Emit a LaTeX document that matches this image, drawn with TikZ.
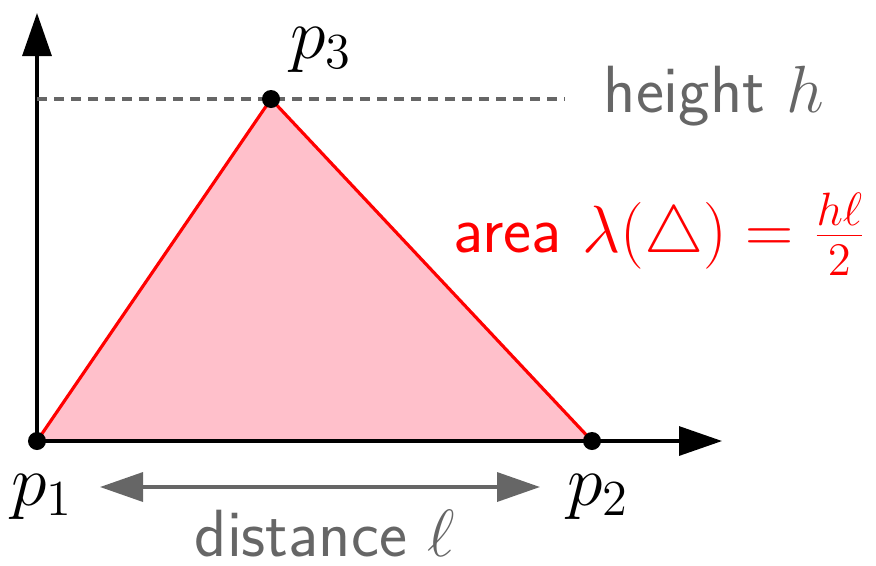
\RequirePackage{fix-cm}
\documentclass[tikz,border=0pt]{standalone}
\usetikzlibrary{arrows.meta}
\definecolor{trifill}{RGB}{255,192,203}
\definecolor{labgray}{RGB}{102,102,102}

\begin{document}
\begin{tikzpicture}[>={Triangle[length=4.3mm, width=2.9mm]},
  every node/.style={font=\fontsize{20.5}{24}\selectfont},
  pt/.style={circle, fill=black, inner sep=0pt, minimum size=1.8mm},
  ax/.style={->, line width=0.9pt},
  lab/.style={labgray, font=\fontsize{19}{23}\selectfont\sffamily, inner sep=0pt},
  dist/.style={<->, labgray, line width=1pt}]
  \useasboundingbox (-0.37,-1.24) rectangle (8.39,4.41);
  \coordinate (o) at (0,0);
  \coordinate (b) at (5.55,0);
  \coordinate (t) at (2.34,3.42);
  \filldraw[fill=trifill, draw=red, line width=0.9pt] (o) -- (b) -- (t) -- cycle;
  \coordinate (ytop) at (0,4.28);
  \coordinate (xend) at (6.85,0);
  \draw[ax] (o) -- (ytop);
  \draw[ax] (o) -- (xend);
  \coordinate (hl) at (o |- t);
  \coordinate (hr) at (5.28,3.42);
  \draw[labgray, line width=0.9pt, dash pattern=on 0.1cm off 0.07cm] (hl) -- (hr);
  \node[pt] (p1) at (o) {};
  \node[pt] (p2) at (b) {};
  \node[pt] (p3) at (t) {};
  \node[anchor=base] (l1) at (0.05,-0.64) {$p_1$};
  \node[anchor=base] (l2) at (5.61,-0.64) {$p_2$};
  \node[anchor=base] (l3) at (2.84,3.83) {$p_3$};
  \node[lab, anchor=base west] (hlab) at (5.66,3.29) {height $h$};
  \node[lab, red, anchor=base west] (alab) at (4.16,1.89)
    {area $\lambda(\triangle)=\frac{h\ell}{2}$};
  \coordinate (dl) at (0.63,-0.46);
  \coordinate (dr) at (5.03,-0.46);
  \draw[dist] (dl) -- (dr);
  \node[lab, anchor=base] (dlab) at (2.88,-1.15) {distance $\ell$};
\end{tikzpicture}
\end{document}
